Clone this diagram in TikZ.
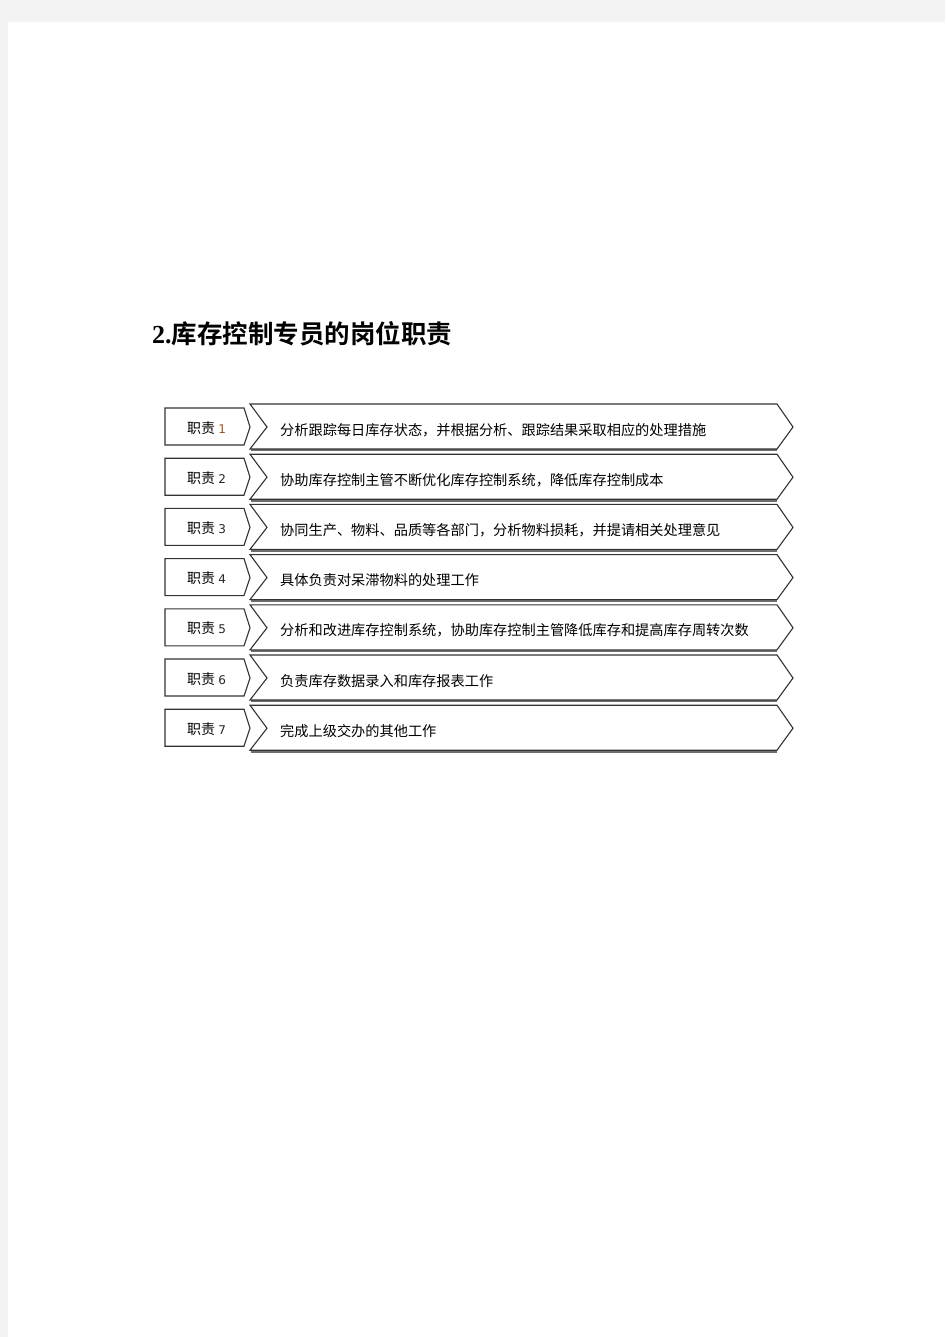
\documentclass[tikz,border=0pt]{standalone}
\usepackage{fontspec}
\setmainfont{Liberation Serif}
\newfontfamily\cjk{Noto Sans CJK SC}
\newfontfamily\cjkb{Noto Sans CJK SC Bold}
\newfontfamily\num{DejaVu Sans}
\definecolor{pagegray}{HTML}{F3F3F3}
\definecolor{edge}{HTML}{333333}
\definecolor{shade}{HTML}{6E6E6E}
\definecolor{numone}{HTML}{A0521E}
\begin{document}
\begin{tikzpicture}[x=1pt,y=-1pt,
  tagbox/.style={draw=edge,fill=white,line width=1.1pt,line join=miter},
  chev/.style={draw=edge,fill=white,line width=1.1pt,line join=miter},
  shadowline/.style={draw=shade,line width=2.2pt},
  tagtext/.style={anchor=base west,inner sep=0pt,font=\cjk\fontsize{14}{16}\selectfont},
  rowtext/.style={anchor=base west,inner sep=0pt,font=\cjk\fontsize{14.2}{16}\selectfont},
  titletext/.style={anchor=base west,inner sep=0pt}]
\useasboundingbox (0,0) rectangle (945,1337);
\fill[pagegray] (0,0) rectangle (945,1337);
\fill[white] (8,22) rectangle (945,1337);
\node[titletext] (title) at (152,343) {{\bfseries\fontsize{26}{28}\selectfont 2.}{\cjkb\fontsize{25.5}{28}\selectfont 库存控制专员的岗位职责}};
\foreach \i/\txt in {
  1/分析跟踪每日库存状态，并根据分析、跟踪结果采取相应的处理措施,
  2/协助库存控制主管不断优化库存控制系统，降低库存控制成本,
  3/协同生产、物料、品质等各部门，分析物料损耗，并提请相关处理意见,
  4/具体负责对呆滞物料的处理工作,
  5/分析和改进库存控制系统，协助库存控制主管降低库存和提高库存周转次数,
  6/负责库存数据录入和库存报表工作,
  7/完成上级交办的其他工作}{
  \pgfmathsetmacro{\t}{404+(\i-1)*50.2}
  % shadow of chevron bottom
  \draw[shadowline] (251,\t+46.3) -- (777,\t+46.3);
  % tag box
  \draw[tagbox] (165,\t+4) -- (244,\t+4) -- (250,\t+23) -- (244,\t+41) -- (165,\t+41) -- cycle;
  % chevron
  \draw[chev] (250,\t) -- (777,\t) -- (793,\t+23) -- (777,\t+45) -- (250,\t+45) -- (267,\t+23) -- cycle;
  \ifnum\i=1
    \node[tagtext] (tag\i) at (187,\t+29) {职责 {\num\fontsize{12}{14}\selectfont\color{numone}\i}};
  \else
    \node[tagtext] (tag\i) at (187,\t+29) {职责 {\num\fontsize{12}{14}\selectfont\color{black!85}\i}};
  \fi
  \node[rowtext] (row\i) at (280,\t+31) {\txt};
}
\end{tikzpicture}
\end{document}
